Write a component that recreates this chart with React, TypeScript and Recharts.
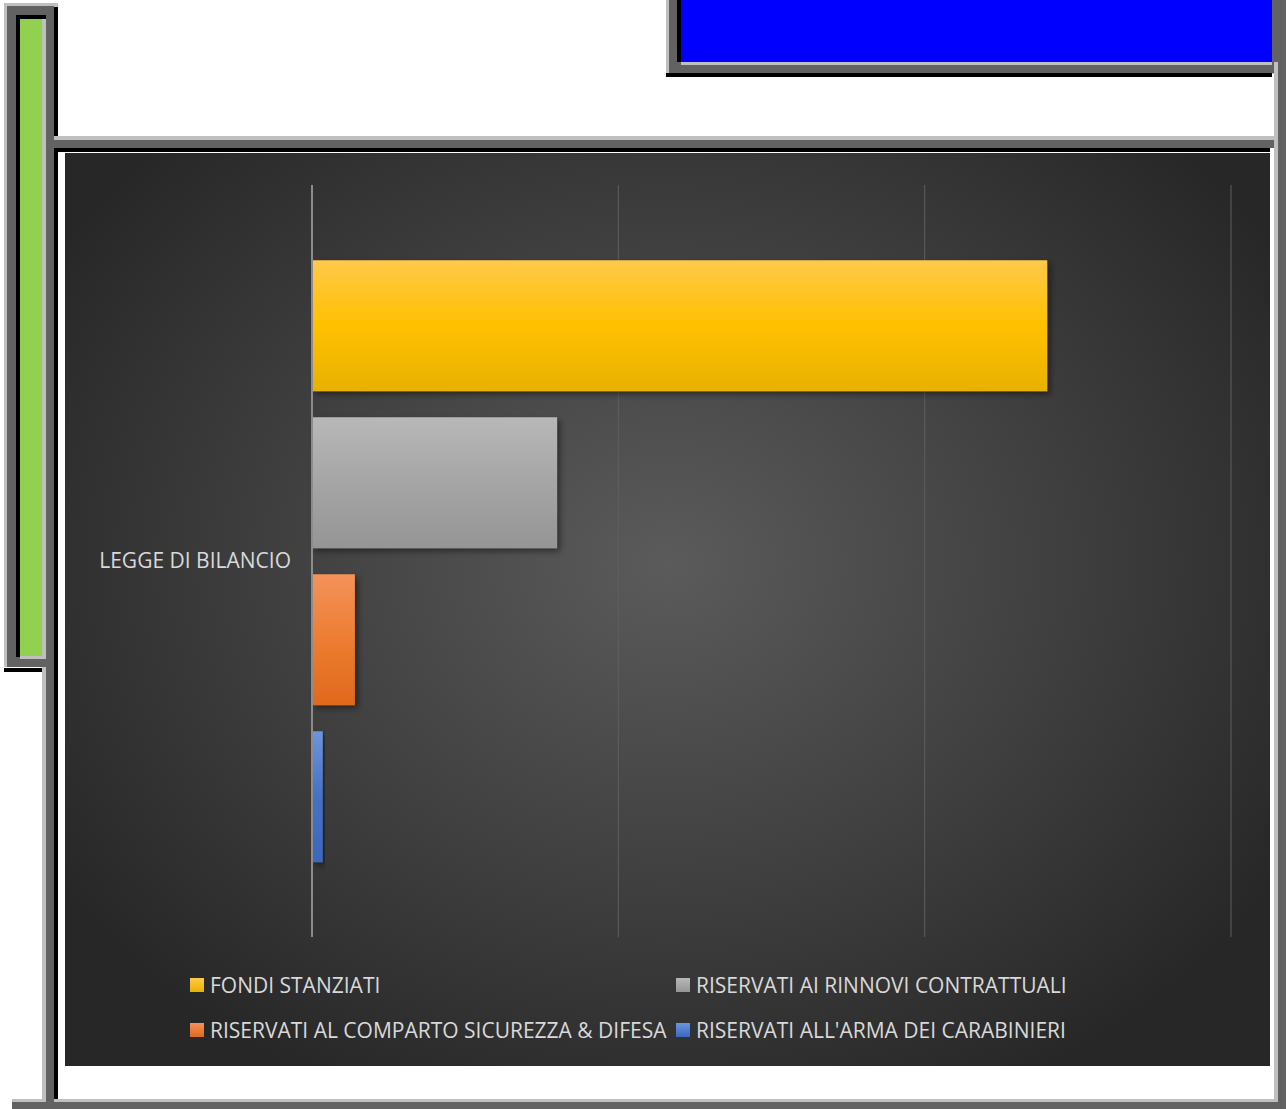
import React from 'react';
import {Bar, BarChart, CartesianGrid, Legend, XAxis, YAxis} from 'recharts';

const categories = ['LEGGE DI BILANCIO'];
const fondiStanziati = [2.4];
const rinnoviContrattuali = [0.8];
const sicurezzaDifesa = [0.14];
const armaCarabinieri = [0.035];
const xTicks = [0, 1, 2, 3];

const seriesNames = [
    'FONDI STANZIATI',
    'RISERVATI AI RINNOVI CONTRATTUALI',
    'RISERVATI AL COMPARTO SICUREZZA & DIFESA',
    "RISERVATI ALL'ARMA DEI CARABINIERI",
];

const data = categories.map((name, i) => ({
    name,
    fondi: fondiStanziati[i],
    rinnovi: rinnoviContrattuali[i],
    sicurezza: sicurezzaDifesa[i],
    carabinieri: armaCarabinieri[i],
}));

const gradients = [
    {id: 'gYellow', top: '#ffc94a', mid: '#ffc000', bottom: '#e8b100'},
    {id: 'gGrey', top: '#b8b8b8', mid: '#a5a5a5', bottom: '#959595'},
    {id: 'gOrange', top: '#f4925c', mid: '#ed7d31', bottom: '#e0691c'},
    {id: 'gBlue', top: '#6d95de', mid: '#4472c4', bottom: '#3a68bf'},
];

const FONT = '"Open Sans", "Noto Sans", sans-serif';

const Box = ({x, y, w, h, c}: {x: number; y: number; w: number; h: number; c: string}) => (
    <div style={{position: 'absolute', left: x, top: y, width: w, height: h, background: c}}/>
);

const LG = '#bfbfbf';
const DG = '#626262';
const BK = '#000000';

const LegendContent = () => {
    const cols = [125, 611];
    const rows = [22, 67];
    return (
        <div style={{position: 'relative', width: 1205, height: 90, fontFamily: FONT}}>
            {seriesNames.map((n, i) => (
                <div key={n} style={{
                    position: 'absolute',
                    left: cols[i % 2],
                    top: rows[Math.floor(i / 2)] - 13,
                    height: 26,
                    display: 'flex',
                    alignItems: 'center',
                    whiteSpace: 'nowrap',
                }}>
                    <span style={{
                        display: 'inline-block',
                        width: 14,
                        height: 14,
                        marginRight: 6,
                        background: `linear-gradient(${gradients[i].top}, ${gradients[i].bottom})`,
                    }}/>
                    <span style={{color: '#d9d9d9', fontSize: 21}}>{n}</span>
                </div>
            ))}
        </div>
    );
};

export default function App() {
    return (
        <div style={{position: 'absolute', left: 0, top: 0, width: 1287, height: 1109, background: '#fff', overflow: 'hidden'}}>
            {/* left green frame */}
            <Box x={4} y={3} w={54} h={664} c={LG}/>
            <Box x={7} y={6} w={47} h={661} c={DG}/>
            <Box x={16} y={15} w={30} h={642} c={BK}/>
            <Box x={20} y={19} w={26} h={640} c={LG}/>
            <Box x={20} y={19} w={22} h={637} c="#92d050"/>
            <Box x={4} y={668} w={38} h={4} c={BK}/>
            <Box x={54} y={7} w={4} h={145} c={BK}/>
            {/* left long bar */}
            <Box x={42} y={667} w={4} h={433} c={LG}/>
            <Box x={46} y={140} w={8} h={969} c={DG}/>
            <Box x={54} y={148} w={4} h={952} c={BK}/>
            {/* top bar of chart frame */}
            <Box x={54} y={136} w={1220} h={4} c={LG}/>
            <Box x={54} y={140} w={1224} h={8} c={DG}/>
            <Box x={58} y={148} w={1212} h={4} c={BK}/>
            {/* blue box */}
            <Box x={666} y={0} w={614} h={74} c={LG}/>
            <Box x={669} y={0} w={617} h={73} c={DG}/>
            <Box x={677} y={0} w={4} h={62} c={BK}/>
            <Box x={681} y={0} w={591} h={65} c={LG}/>
            <Box x={681} y={0} w={591} h={62} c="#0000ff"/>
            <Box x={666} y={73} w={606} h={4} c={BK}/>
            {/* right bar */}
            <Box x={1274} y={62} w={4} h={1041} c={LG}/>
            <Box x={1278} y={62} w={8} h={1047} c={DG}/>
            {/* bottom bar */}
            <Box x={12} y={1099} w={1266} h={3} c={LG}/>
            <Box x={12} y={1102} w={1274} h={7} c={DG}/>
            <Box x={46} y={1099} w={8} h={10} c={DG}/>

            <div style={{
                position: 'absolute',
                left: 65,
                top: 153,
                width: 1205,
                height: 913,
                background: 'radial-gradient(ellipse 60% 65% at 50% 45%, #5b5b5b 0%, #3f3f3f 55%, #272727 100%)',
            }}>
                <BarChart
                    width={1205}
                    height={913}
                    data={data}
                    layout="vertical"
                    barCategoryGap="10%"
                    barGap={26}
                    margin={{top: 32, right: 39, left: 0, bottom: 39}}
                    style={{fontFamily: FONT}}
                >
                    <defs>
                        {gradients.map(g => (
                            <linearGradient key={g.id} id={g.id} x1="0" y1="0" x2="0" y2="1">
                                <stop offset="0%" stopColor={g.top}/>
                                <stop offset="50%" stopColor={g.mid}/>
                                <stop offset="100%" stopColor={g.bottom}/>
                            </linearGradient>
                        ))}
                        <filter id="shadow" x="-10%" y="-10%" width="130%" height="130%">
                            <feDropShadow dx="3" dy="3" stdDeviation="3" floodColor="#000" floodOpacity="0.45"/>
                        </filter>
                    </defs>
                    <CartesianGrid horizontal={false} stroke="#5e5e5e" strokeWidth={1}/>
                    <XAxis type="number" domain={[0, 3]} ticks={xTicks} hide/>
                    <YAxis
                        type="category"
                        dataKey="name"
                        width={247}
                        axisLine={{stroke: '#8c8c8c', strokeWidth: 2}}
                        tickLine={false}
                        tick={{fill: '#d9d9d9', fontSize: 21}}
                        tickMargin={15}
                    />
                    <Legend
                        verticalAlign="bottom"
                        content={<LegendContent/>}
                        wrapperStyle={{top: 810, bottom: 'auto', left: 0, width: 1205, height: 90}}
                    />
                    <Bar dataKey="fondi" name={seriesNames[0]} fill="url(#gYellow)" filter="url(#shadow)" isAnimationActive={false}/>
                    <Bar dataKey="rinnovi" name={seriesNames[1]} fill="url(#gGrey)" filter="url(#shadow)" isAnimationActive={false}/>
                    <Bar dataKey="sicurezza" name={seriesNames[2]} fill="url(#gOrange)" filter="url(#shadow)" isAnimationActive={false}/>
                    <Bar dataKey="carabinieri" name={seriesNames[3]} fill="url(#gBlue)" filter="url(#shadow)" isAnimationActive={false}/>
                </BarChart>
            </div>
        </div>
    );
}
